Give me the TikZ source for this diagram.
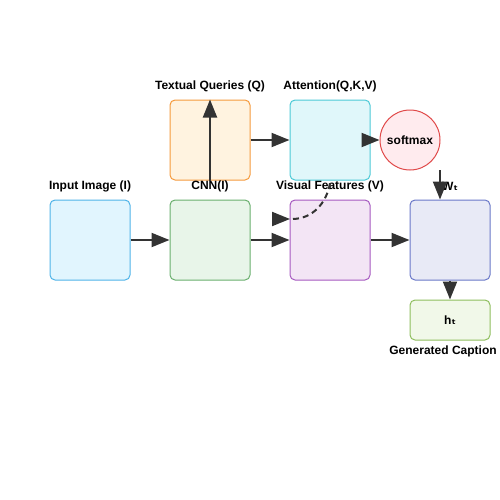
\documentclass[tikz,border=0pt]{standalone}
\usepackage{fontspec}
\setmainfont{Liberation Sans}
\newfontfamily\subfont{DejaVu Sans}
\usetikzlibrary{arrows.meta}

\definecolor{arrgray}{HTML}{333333}
\definecolor{inFill}{HTML}{E1F5FE}\definecolor{inLine}{HTML}{4FB3E8}
\definecolor{cnnFill}{HTML}{E8F5E9}\definecolor{cnnLine}{HTML}{6AAF6E}
\definecolor{tqFill}{HTML}{FFF3E0}\definecolor{tqLine}{HTML}{F59A3C}
\definecolor{attFill}{HTML}{E0F7FA}\definecolor{attLine}{HTML}{4CC9D6}
\definecolor{vfFill}{HTML}{F3E5F5}\definecolor{vfLine}{HTML}{A659C0}
\definecolor{smFill}{HTML}{FFEBEE}\definecolor{smLine}{HTML}{E04848}
\definecolor{wtFill}{HTML}{E8EAF6}\definecolor{wtLine}{HTML}{6A78C8}
\definecolor{htFill}{HTML}{F1F8E9}\definecolor{htLine}{HTML}{8EBE5E}

\begin{document}
\begin{tikzpicture}[x=0.75pt,y=-0.75pt,
    box/.style={rounded corners=3.75pt,minimum width=60pt,minimum height=60pt,inner sep=0pt,line width=0.75pt},
    lbl/.style={font=\bfseries\fontsize{9}{10}\selectfont,text=black},
    arr/.style={draw=arrgray,line width=1.5pt,-{Triangle[length=13.5pt,width=10.5pt]}}]
        \useasboundingbox (0,0) rectangle (500,500);

        % boxes
        \node[box,draw=inLine,fill=inFill]   (inimg) at ( 90,240) {};
        \node[box,draw=cnnLine,fill=cnnFill] (cnn)   at (210,240) {};
        \node[box,draw=tqLine,fill=tqFill]   (tq)    at (210,140) {};
        \node[box,draw=attLine,fill=attFill] (att)   at (330,140) {};
        \node[box,draw=vfLine,fill=vfFill]   (vf)    at (330,240) {};
        \node[box,draw=wtLine,fill=wtFill]   (wt)    at (450,240) {};
        \node[box,draw=htLine,fill=htFill,minimum height=30pt,lbl] (ht) at (450,320) {h{\subfont ₜ}};
        \node[circle,draw=smLine,fill=smFill,line width=0.75pt,minimum size=45pt,inner sep=0pt,lbl] (smax) at (410,140) {softmax};

        % labels
        \node[lbl] (inimglbl) at ( 90,186) {Input Image (I)};
        \node[lbl] (cnnlbl)   at (210,186) {CNN(I)};
        \node[lbl] (tqlbl)    at (210, 86) {Textual Queries (Q)};
        \node[lbl] (attlbl)   at (330, 86) {Attention(Q,K,V)};
        \node[lbl] (vflbl)    at (330,186) {Visual Features (V)};
        \node[lbl] (wtlbl)    at (450,186) {W{\subfont ₜ}};
        \node[lbl] (htlbl)    at (443,351) {Generated Caption};

        % arrows
        \draw[arr] (inimg.east) -- (cnn.west);
        \draw[arr] (cnn.east) -- (vf.west);
        \draw[arr] (tq.south) -- (tq.north);
        \draw[arr] (tq.east) -- (att.west);
        \draw[arr] (att.east) -- (smax.west);
        \draw[arr] (vf.east) -- (wt.west);
        \draw[arr] (wt.south) -- (ht.north);

        \coordinate (smout) at (440,170);
        \draw[arr] (smout) -- (smout |- wt.north);

        \coordinate (vfin) at (290,219);
        \draw[arrgray,line width=1.5pt,dash pattern=on 4.5pt off 3pt] ([yshift=-2pt]att.south) to[out=-100,in=0] ([xshift=1.5pt]vfin);
        \draw[arr] ([xshift=-13.5pt]vfin) -- (vfin);
    \end{tikzpicture}
\end{document}
